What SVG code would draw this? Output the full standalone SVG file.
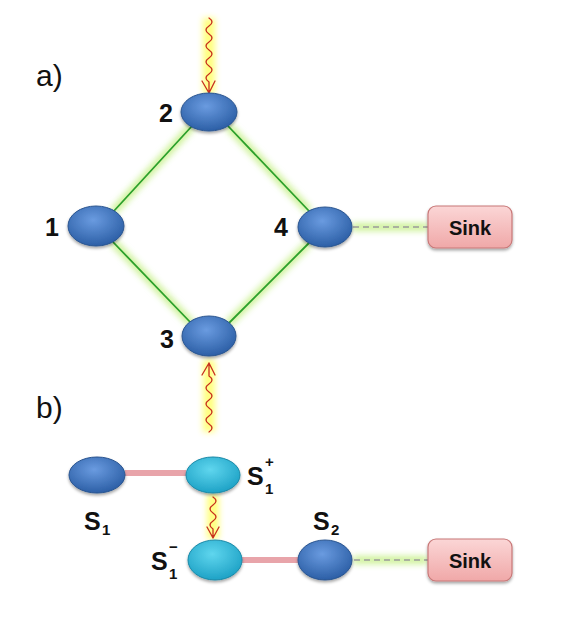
<svg xmlns="http://www.w3.org/2000/svg" width="574" height="637" viewBox="0 0 574 637">
<defs>
<radialGradient id="gBlue" cx="45%" cy="35%" r="65%">
<stop offset="0" stop-color="#6a9be0"/><stop offset="1" stop-color="#2c5fa6"/>
</radialGradient>
<radialGradient id="gCyan" cx="45%" cy="35%" r="65%">
<stop offset="0" stop-color="#5fd6ee"/><stop offset="1" stop-color="#1ea2c6"/>
</radialGradient>
<linearGradient id="gSink" x1="0" y1="0" x2="0" y2="1">
<stop offset="0" stop-color="#fbd6d6"/><stop offset="1" stop-color="#f0a8a8"/>
</linearGradient>
<filter id="blur" filterUnits="userSpaceOnUse" x="0" y="0" width="574" height="637"><feGaussianBlur stdDeviation="3"/></filter>
<filter id="shadow" x="-30%" y="-30%" width="160%" height="170%"><feDropShadow dx="0" dy="2" stdDeviation="1.5" flood-color="#000" flood-opacity="0.35"/></filter>
</defs>
<style>
.glowG{stroke:#c8f08c;stroke-width:8;fill:none;filter:url(#blur);opacity:0.9}
.edge{stroke:#2ca02c;stroke-width:1.8;fill:none}
.glowY{stroke:#ffff70;stroke-width:12;fill:none;filter:url(#blur);opacity:0.9}
.wave{stroke:#c8301c;stroke-width:1.3;fill:none;stroke-linecap:round;stroke-linejoin:round}
.pink{stroke:#e8a4aa;stroke-width:6;fill:none}
.dash{stroke:#9a9a9a;stroke-width:1.6;stroke-dasharray:6 4;fill:none}
.nb{fill:url(#gBlue);stroke:#2a5590;stroke-width:1;filter:url(#shadow)}
.nc{fill:url(#gCyan);stroke:#1b8aa8;stroke-width:1;filter:url(#shadow)}
.sink{fill:url(#gSink);stroke:#c87878;stroke-width:1.2;filter:url(#shadow)}
.lbl{font-family:"Liberation Sans",Arial,sans-serif;font-weight:bold;font-size:25px;fill:#111}
.sub{font-family:"Liberation Sans",Arial,sans-serif;font-weight:bold;font-size:15px;fill:#111}
.big{font-family:"Liberation Sans",Arial,sans-serif;font-size:30px;fill:#111}
.sinkT{font-family:"Liberation Sans",Arial,sans-serif;font-weight:bold;font-size:20px;fill:#111}
</style>
<text class="big" x="36" y="86">a)</text>
<text class="big" x="36" y="418">b)</text>
<g id="connectors">
<path class="glowG" d="M192,126 L113,212 M228,126 L309,211 M113,242 L192,324 M309,243 L228,324 M352,227 L428,227 M353,560 L428,560"/>
<path class="edge" d="M192,126 L113,212 M228,126 L309,211 M113,242 L192,324 M309,243 L228,324"/>
<path class="dash" d="M353,227 L428,227 M354,560 L428,560"/>
<path class="pink" d="M125,473 L186,473 M242,560 L298,560"/>
<path class="glowY" d="M209,18 L209,94"/>
<path class="wave" d="M209,18 Q215,22 209,26 T209,34 T209,42 T209,50 T209,58 T209,66 T209,74 T209,82 L209,93 M202,81 L209,93 L215,81"/>
<path class="glowY" d="M209,360 L209,432"/>
<path class="wave" d="M209,432 Q215,428 209,424 T209,416 T209,408 T209,400 T209,392 T209,384 T209,376 L209,363 M202,375 L209,363 L215,375"/>
<path class="glowY" d="M213,494 L213,539"/>
<path class="wave" d="M213,497 Q219,501 213,505 T213,513 T213,521 T213,529 L213,538 M207,527 L213,538 L219,527"/>
</g>
<g id="n1"><ellipse class="nb" cx="96" cy="226" rx="28" ry="20"/><text class="lbl" x="45" y="236">1</text></g>
<g id="n2"><ellipse class="nb" cx="209" cy="112" rx="28" ry="19"/><text class="lbl" x="159" y="122">2</text></g>
<g id="n3"><ellipse class="nb" cx="209" cy="336" rx="27" ry="20"/><text class="lbl" x="160" y="348">3</text></g>
<g id="n4"><ellipse class="nb" cx="325" cy="227" rx="27" ry="20"/><text class="lbl" x="274" y="236">4</text></g>
<g id="sink1"><rect class="sink" x="428" y="206" width="84" height="42" rx="8"/><text class="sinkT" x="470" y="235" text-anchor="middle">Sink</text></g>
<g id="s1"><ellipse class="nb" cx="97" cy="475" rx="28" ry="18"/><text class="lbl" x="84" y="530">S</text><text class="sub" x="102" y="535">1</text></g>
<g id="s1plus"><ellipse class="nc" cx="213" cy="475" rx="27" ry="18"/><text class="lbl" x="247" y="485">S</text><text class="sub" x="265" y="467">+</text><text class="sub" x="265" y="494">1</text></g>
<g id="s1minus"><ellipse class="nc" cx="215" cy="560" rx="27" ry="20"/><text class="lbl" x="151" y="570">S</text><text class="sub" x="169" y="552">−</text><text class="sub" x="169" y="579">1</text></g>
<g id="s2"><ellipse class="nb" cx="325" cy="560" rx="27" ry="20"/><text class="lbl" x="313" y="530">S</text><text class="sub" x="331" y="535">2</text></g>
<g id="sink2"><rect class="sink" x="428" y="539" width="84" height="42" rx="8"/><text class="sinkT" x="470" y="568" text-anchor="middle">Sink</text></g>
</svg>
